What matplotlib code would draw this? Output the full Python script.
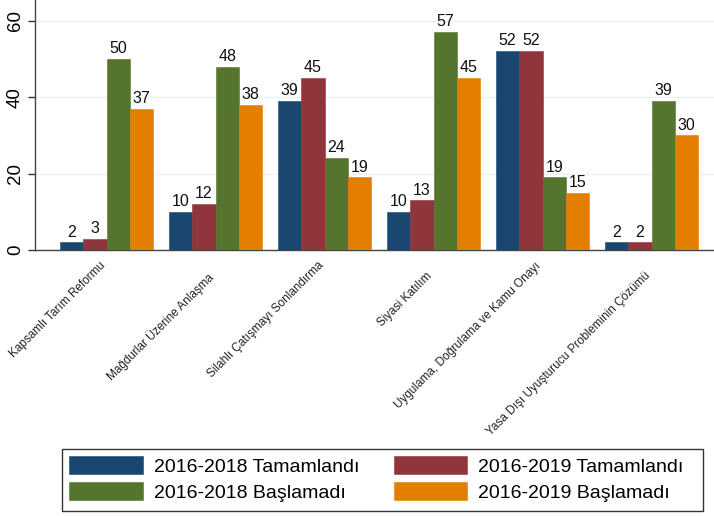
import matplotlib
matplotlib.use("Agg")
import matplotlib.pyplot as plt
from matplotlib.patches import Rectangle
import numpy as np

plt.rcParams['font.family'] = ['Liberation Sans', 'DejaVu Sans']

# Data
categories = ["Kapsamlı Tarım Reformu", "Mağdurlar Üzerine Anlaşma",
              "Silahlı Çatışmayı Sonlandırma", "Siyasi Katılım",
              "Uygulama, Doğrulama ve Kamu Onayı",
              "Yasa Dışı Uyuşturucu Probleminin Çözümü"]
series = ["2016-2018 Tamamlandı", "2016-2019 Tamamlandı",
          "2016-2018 Başlamadı", "2016-2019 Başlamadı"]
tam_2018 = [2, 10, 39, 10, 52, 2]
tam_2019 = [3, 12, 45, 13, 52, 2]
bas_2018 = [50, 48, 24, 57, 19, 39]
bas_2019 = [37, 38, 19, 45, 15, 30]
colors = ["#1a476f", "#90353b", "#55752f", "#e37e00"]

values = [tam_2018, tam_2019, bas_2018, bas_2019]

W, H = 714, 516
fig = plt.figure(figsize=(W / 100, H / 100), dpi=100)
ax = fig.add_axes([35 / W, 1 - 250 / H, 1 - 35 / W, 250 / H])

x = np.arange(len(categories))
w = 0.214
handles = []
for k, (vals, col, name) in enumerate(zip(values, colors, series)):
    pos = x + (k - 1.5) * w
    b = ax.bar(pos, vals, width=w, color=col, edgecolor=col, linewidth=0.4,
               label=name, zorder=3)
    handles.append(b)
    for px, v in zip(pos, vals):
        ax.annotate(str(v), xy=(px, v), xytext=(0, 2.0), textcoords="offset points",
                    ha="center", va="bottom", fontsize=11.5, color="#111111")

ax.set_xlim(-0.656, 5.573)
ax.set_ylim(0, 65.4)
ax.set_yticks([0, 20, 40, 60])
ax.set_yticklabels(["0", "20", "40", "60"], rotation=90, va="center", fontsize=13.5)
ax.tick_params(axis="y", length=5, width=1, color="#333333", pad=3)
ax.set_xticks([])
ax.grid(axis="y", color="#eaf2f3", linewidth=1, zorder=0)
for s in ["top", "right"]:
    ax.spines[s].set_visible(False)
for s in ["left", "bottom"]:
    ax.spines[s].set_color("#444444")
    ax.spines[s].set_linewidth(1)

# category labels, alternating offset
for i, lab in enumerate(categories):
    off = 7 if i % 2 == 0 else 14.5
    ax.annotate(lab, xy=(x[i], 0), xycoords=("data", "axes fraction"),
                xytext=(1, -off), textcoords="offset points",
                rotation=45, ha="right", va="top", fontsize=8.5, color="#222222")

# legend box drawn separately so its size matches the reference
fig.patches.append(Rectangle((62 / W, 1 - 511 / H), (703 - 62) / W, (511 - 449) / H,
                             transform=fig.transFigure, fill=False,
                             edgecolor="#333333", linewidth=1))

# legend filled row by row: ncol=2 fills columns first, so reorder
order = [0, 2, 1, 3]
leg = fig.legend([handles[i] for i in order], [series[i] for i in order],
                 loc="upper left", bbox_to_anchor=(62 / W, 1 - 449 / H),
                 ncol=2, fontsize=14, frameon=False,
                 handlelength=3.76, handleheight=1.05, handletextpad=0.57,
                 columnspacing=1.8, labelspacing=0.33, borderpad=0.38,
                 borderaxespad=0)

fig.savefig("out.png", dpi=100)
